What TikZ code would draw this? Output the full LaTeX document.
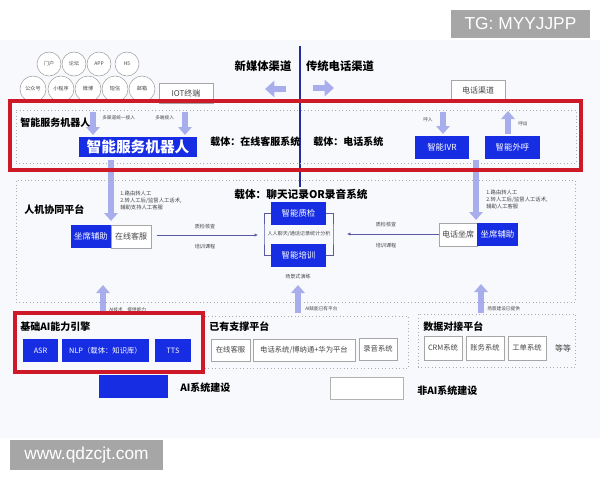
\documentclass[tikz,border=0pt]{standalone}
\usepackage{fontspec}
\setmainfont{Noto Sans CJK SC}
\newfontfamily\wmfont{Liberation Sans}
\usetikzlibrary{arrows.meta}
\definecolor{myblue}{RGB}{22,45,228}
\definecolor{myred}{RGB}{205,25,40}
\definecolor{arrowc}{RGB}{168,174,236}
\definecolor{divline}{RGB}{35,45,160}
\definecolor{bgc}{RGB}{248,249,252}
\definecolor{wmgray}{RGB}{166,166,166}
\definecolor{txtgray}{RGB}{70,70,70}
\tikzset{
 bluebox/.style={fill=myblue, text=white, inner sep=0pt, font=\fontsize{6.3}{7}\selectfont},
 whitebox/.style={draw=gray!70, fill=white, text=txtgray, inner sep=0pt, font=\fontsize{6}{7}\selectfont},
 dotbox/.style={draw=gray!65, dotted, line width=0.6pt, inner sep=0pt},
 redbox/.style={draw=myred, line width=3pt, inner sep=0pt},
 circ/.style={circle, draw=gray!75, fill=white, inner sep=0pt, text=txtgray, font=\fontsize{3.8}{4}\selectfont},
 parrow/.style={draw=arrowc, line width=4pt, -{Triangle[width=10pt,length=6pt]}},
 title/.style={font=\fontsize{7.5}{8}\selectfont\bfseries, inner sep=0pt, anchor=west},
 tinylbl/.style={font=\fontsize{3.5}{4.2}\selectfont, text=txtgray, inner sep=0pt, anchor=west},
 notelbl/.style={font=\fontsize{4}{5}\selectfont, text=txtgray, inner sep=0pt, anchor=west, align=left},
 conn/.style={draw=gray!70!blue, line width=0.5pt},
}
\begin{document}
\begin{tikzpicture}[x=0.75pt,y=-0.75pt]
\useasboundingbox (0,0) rectangle (600,480);
\fill[white] (0,0) rectangle (600,480);
\fill[bgc] (0,40) rectangle (600,438);

% ---------- arrows (drawn first, beneath boxes)
\coordinate (laS) at (286,89); \coordinate (laE) at (265,89);
\coordinate (raS) at (313,88); \coordinate (raE) at (334,88);
\draw[parrow, line width=5pt, -{Triangle[width=12pt,length=7pt]}] (laS) -- (laE);
\draw[parrow, line width=5pt, -{Triangle[width=12pt,length=7pt]}] (raS) -- (raE);

\coordinate (d1S) at (93,112);  \coordinate (d1E) at (93,135);
\coordinate (d2S) at (185,112); \coordinate (d2E) at (185,135);
\coordinate (inS) at (443,112); \coordinate (inE) at (443,134);
\coordinate (outS) at (508,134); \coordinate (outE) at (508,111);
\draw[parrow] (d1S) -- (d1E);
\draw[parrow] (d2S) -- (d2E);
\draw[parrow] (inS) -- (inE);
\draw[parrow] (outS) -- (outE);

\coordinate (mLS) at (111,160); \coordinate (mLE) at (111,221);
\coordinate (mRS) at (476,160); \coordinate (mRE) at (476,220);
\draw[parrow] (mLS) -- (mLE);
\draw[parrow] (mRS) -- (mRE);

\coordinate (uLS) at (103,313); \coordinate (uLE) at (103,285);
\coordinate (uMS) at (298,313); \coordinate (uME) at (298,285);
\coordinate (uRS) at (481,313); \coordinate (uRE) at (481,284);
\draw[parrow] (uLS) -- (uLE);
\draw[parrow] (uMS) -- (uME);
\draw[parrow] (uRS) -- (uRE);

% ---------- divider line
\coordinate (dvT) at (300,46); \coordinate (dvB) at (300,187);
\draw[divline, line width=1.2pt] (dvT) -- (dvB);

% ---------- headings
\node[font=\fontsize{8.5}{9}\selectfont\bfseries, inner sep=0pt] (newmedia) at (263,66) {新媒体渠道};
\node[font=\fontsize{8.5}{9}\selectfont\bfseries, inner sep=0pt] (tradphone) at (340,66) {传统电话渠道};

% ---------- channel circles
\node[circ, minimum size=18pt] (c1) at (49,64) {门户};
\node[circ, minimum size=18pt] (c2) at (74,64) {论坛};
\node[circ, minimum size=18pt] (c3) at (99,64) {APP};
\node[circ, minimum size=18pt] (c4) at (127,64) {H5};
\node[circ, minimum size=19.5pt] (c5) at (33,89) {公众号};
\node[circ, minimum size=19.5pt] (c6) at (61,89) {小程序};
\node[circ, minimum size=19.5pt] (c7) at (88,89) {微博};
\node[circ, minimum size=19.5pt] (c8) at (115,89) {短信};
\node[circ, minimum size=19.5pt] (c9) at (142,89) {邮箱};

\node[whitebox, minimum width=40.5pt, minimum height=15pt] (iot) at (186,93) {IOT终端};
\node[whitebox, minimum width=40.5pt, minimum height=15pt] (telch) at (478,90) {电话渠道};

% ---------- top layer
\node[dotbox, minimum width=420pt, minimum height=39.75pt] (topdot) at (296,136.5) {};
\node[redbox, minimum width=428.25pt, minimum height=51.75pt] (topred) at (295.5,135.5) {};
\node[title] (robotlbl) at (20,123) {智能服务机器人};
\node[tinylbl] (lbl1) at (102,118) {多渠道统一接入};
\node[tinylbl] (lbl2) at (155,118) {多端接入};
\node[bluebox, minimum width=88.5pt, minimum height=15pt, font=\fontsize{11}{12}\selectfont\bfseries] (robot) at (138,147) {智能服务机器人};
\node[title] (carrier1) at (210,142) {载体：在线客服系统};
\node[title] (carrier2) at (313,142) {载体：电话系统};
\node[tinylbl] (huru) at (423,120) {呼入};
\node[tinylbl] (huchu) at (518,124) {呼出};
\node[bluebox, minimum width=40.5pt, minimum height=17.25pt] (ivr) at (442,147.5) {智能IVR};
\node[bluebox, minimum width=41.25pt, minimum height=17.25pt] (outcall) at (512.5,147.5) {智能外呼};

% ---------- middle layer
\node[dotbox, minimum width=419.25pt, minimum height=91.5pt] (middot) at (295.5,241) {};
\node[title] (hmlbl) at (24,210) {人机协同平台};
\node[notelbl] (noteL) at (120,200.5) {1.路由转人工\\2.转人工后/监督人工话术,\\辅助支持人工客服};
\node[notelbl] (noteR) at (486,199.5) {1.路由转人工\\2.转人工后/监督人工话术,\\辅助人工客服};
\node[bluebox, minimum width=30pt, minimum height=17.25pt] (assistL) at (91,236.5) {坐席辅助};
\node[whitebox, minimum width=30pt, minimum height=17.25pt] (zxkf) at (131,236.5) {在线客服};
\node[whitebox, minimum width=28.5pt, minimum height=17.25pt] (dhzx) at (458,234.5) {电话坐席};
\node[bluebox, minimum width=30.75pt, minimum height=17.25pt] (assistR) at (497.5,234.5) {坐席辅助};

\node[font=\fontsize{8}{9}\selectfont\bfseries, inner sep=0pt] (carrier3) at (301,194) {载体：聊天记录OR录音系统};
\node[bluebox, minimum width=41.25pt, minimum height=17.25pt] (qc) at (298.5,213.5) {智能质检};
\node[bluebox, minimum width=41.25pt, minimum height=17.25pt] (train) at (298.5,255.5) {智能培训};
\node[tinylbl, anchor=center, font=\fontsize{3.8}{4.4}\selectfont] (anal) at (299,234) {人人聊天/通话记录统计分析};
\node[tinylbl, anchor=center, font=\fontsize{3.8}{4.4}\selectfont] (scene) at (298,277) {场景式演练};
\coordinate (brL) at (264,234);
\coordinate (brR) at (333,234);
\draw[conn] (qc.west) -| (brL) |- (train.west);
\draw[conn] (qc.east) -| (brR) |- (train.east);

\coordinate (lineLE) at (258,235);
\coordinate (lineRE) at (347,234);
\draw[conn, -{Latex[length=2.5pt,width=2.5pt]}] ([xshift=4pt]zxkf.east |- lineLE) -- (lineLE);
\draw[conn, -{Latex[length=2.5pt,width=2.5pt]}] (dhzx.west |- lineRE) -- (lineRE);
\node[tinylbl, anchor=center, font=\fontsize{3.8}{4.4}\selectfont] (qL) at (205,227) {质检核查};
\node[tinylbl, anchor=center, font=\fontsize{3.8}{4.4}\selectfont] (tL) at (205,247) {培训课程};
\node[tinylbl, anchor=center, font=\fontsize{3.8}{4.4}\selectfont] (qR) at (386,225) {质检核查};
\node[tinylbl, anchor=center, font=\fontsize{3.8}{4.4}\selectfont] (tR) at (386,246) {培训课程};

\node[tinylbl] (upL) at (109,310) {AI技术\quad 提供能力};
\node[tinylbl] (upM) at (305,309) {AI赋能已有平台};
\node[tinylbl] (upR) at (487,309) {场景建设已提供};

% ---------- bottom layer
\node[dotbox, minimum width=157.5pt, minimum height=39pt] (supdot) at (303,342) {};
\node[dotbox, minimum width=117.75pt, minimum height=39.75pt] (datadot) at (496.5,340.5) {};
\node[redbox, fill=bgc, minimum width=141pt, minimum height=44.25pt] (aired) at (109,342.5) {};
\node[title] (ailbl) at (20,327) {基础AI能力引擎};
\node[bluebox, minimum width=26.25pt, minimum height=17.25pt, font=\fontsize{5.5}{6}\selectfont] (asr) at (40.5,350.5) {ASR};
\node[bluebox, minimum width=65.25pt, minimum height=17.25pt, font=\fontsize{5.5}{6}\selectfont] (nlp) at (105.5,350.5) {NLP（载体：知识库）};
\node[bluebox, minimum width=27pt, minimum height=17.25pt, font=\fontsize{5.5}{6}\selectfont] (tts) at (173,350.5) {TTS};

\node[title] (suplbl) at (209,327) {已有支撑平台};
\node[whitebox, minimum width=29.25pt, minimum height=16.5pt, font=\fontsize{5.5}{6}\selectfont] (s1) at (230.5,350) {在线客服};
\node[whitebox, minimum width=76.5pt, minimum height=16.5pt, font=\fontsize{5.5}{6}\selectfont] (s2) at (304,350) {电话系统/博纳通+华为平台};
\node[whitebox, minimum width=28.5pt, minimum height=16.5pt, font=\fontsize{5.5}{6}\selectfont] (s3) at (378,349) {录音系统};

\node[title] (datalbl) at (423,327) {数据对接平台};
\node[whitebox, minimum width=28.5pt, minimum height=18pt, font=\fontsize{5.5}{6}\selectfont] (crm) at (443,348) {CRM系统};
\node[whitebox, minimum width=28.5pt, minimum height=18pt, font=\fontsize{5.5}{6}\selectfont] (acct) at (485,348) {账务系统};
\node[whitebox, minimum width=28.5pt, minimum height=18pt, font=\fontsize{5.5}{6}\selectfont] (ticket) at (527,348) {工单系统};
\node[inner sep=0pt, text=txtgray, font=\fontsize{6}{7}\selectfont] (etc) at (563,348) {等等};

% ---------- legend
\node[fill=myblue, minimum width=51.75pt, minimum height=17.25pt, inner sep=0pt] (legAI) at (133.5,386.5) {};
\node[title] (legAIlbl) at (180,388) {AI系统建设};
\node[draw=gray!60, fill=white, minimum width=54.75pt, minimum height=16.5pt, inner sep=0pt] (legNon) at (366.5,388) {};
\node[title] (legNonlbl) at (417,391) {非AI系统建设};

% ---------- watermarks
\node[fill=wmgray, text=white, minimum width=104.25pt, minimum height=21pt, inner sep=0pt, font=\wmfont\fontsize{13}{14}\selectfont] (wm1) at (520.5,24) {TG: MYYJJPP};
\node[fill=wmgray, text=white, minimum width=114.75pt, minimum height=22.5pt, inner sep=0pt, font=\wmfont\fontsize{13}{14}\selectfont] (wm2) at (86.5,455) {www.qdzcjt.com};
\end{tikzpicture}
\end{document}
